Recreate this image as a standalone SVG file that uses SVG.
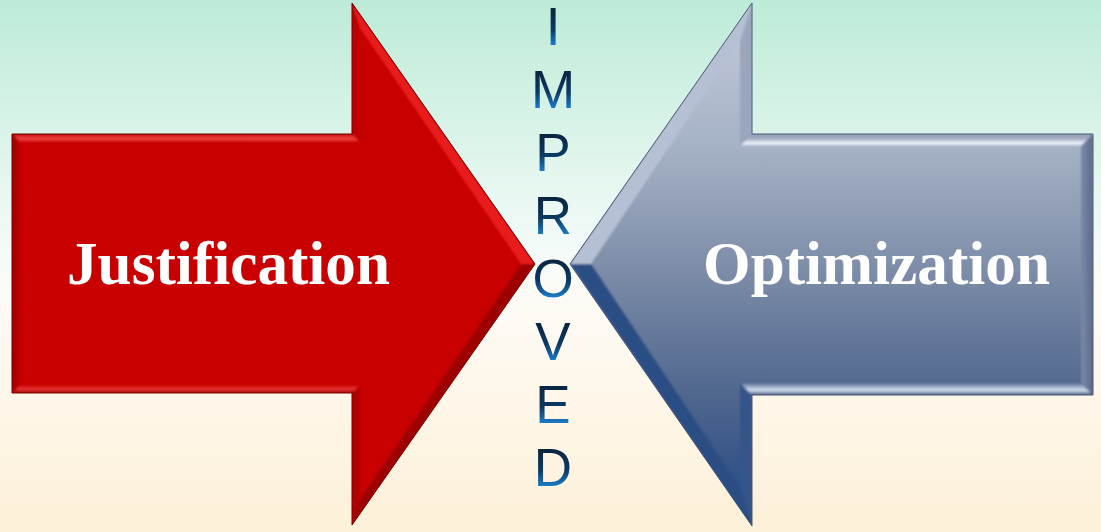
<svg xmlns="http://www.w3.org/2000/svg" width="1101" height="532" viewBox="0 0 1101 532">
  <defs>
    <linearGradient id="bg" x1="0" y1="0" x2="0" y2="1">
      <stop offset="0" stop-color="#bdebd7"/>
      <stop offset="0.48" stop-color="#f5fbf9"/>
      <stop offset="0.56" stop-color="#fefbf6"/>
      <stop offset="1" stop-color="#fdf0d8"/>
    </linearGradient>

    <!-- red arrow -->
    <linearGradient id="redTop" x1="0" y1="0" x2="0" y2="1">
      <stop offset="0" stop-color="#b80606"/>
      <stop offset="0.55" stop-color="#f24444"/>
      <stop offset="1" stop-color="#d41212"/>
    </linearGradient>
    <linearGradient id="redBottom" x1="0" y1="1" x2="0" y2="0">
      <stop offset="0" stop-color="#8a0000"/>
      <stop offset="0.45" stop-color="#ee3434"/>
      <stop offset="1" stop-color="#cc0404"/>
    </linearGradient>
    <linearGradient id="redLeft" x1="0" y1="0" x2="1" y2="0">
      <stop offset="0" stop-color="#9a0000"/>
      <stop offset="1" stop-color="#c00000"/>
    </linearGradient>

    <!-- slate arrow -->
    <linearGradient id="slateFill" gradientUnits="userSpaceOnUse" x1="0" y1="3" x2="0" y2="526">
      <stop offset="0" stop-color="#c4ccdc"/>
      <stop offset="0.27" stop-color="#a6b2c6"/>
      <stop offset="0.5" stop-color="#7f8ea9"/>
      <stop offset="0.74" stop-color="#51688f"/>
      <stop offset="1" stop-color="#214683"/>
    </linearGradient>
    <linearGradient id="slateTop" x1="0" y1="0" x2="0" y2="1">
      <stop offset="0" stop-color="#8d96ae"/>
      <stop offset="0.45" stop-color="#a9b3c8"/>
      <stop offset="0.75" stop-color="#f2f7ff"/>
      <stop offset="1" stop-color="#b4bfd2"/>
    </linearGradient>
    <linearGradient id="slateBottom" x1="0" y1="1" x2="0" y2="0">
      <stop offset="0" stop-color="#46587c"/>
      <stop offset="0.4" stop-color="#d6e0f4"/>
      <stop offset="1" stop-color="#5a6f96"/>
    </linearGradient>
    <linearGradient id="slateRight" x1="1" y1="0" x2="0" y2="0">
      <stop offset="0" stop-color="#5c6a8a"/>
      <stop offset="1" stop-color="#7a8aa8"/>
    </linearGradient>

    <!-- vertical lettering -->
    <linearGradient id="ink" x1="0" y1="0" x2="0" y2="1">
      <stop offset="0.17" stop-color="#09233e"/>
      <stop offset="0.55" stop-color="#0c3a64"/>
      <stop offset="0.81" stop-color="#1b7ac6"/>
    </linearGradient>

    <clipPath id="redClip">
      <polygon points="12,134 352,134 352,3 535,264 352,525 352,393 12,393"/>
    </clipPath>
    <clipPath id="slateClip">
      <polygon points="1093,134 752,134 752,3 570,264 752,526 752,395 1093,395"/>
    </clipPath>
    <filter id="soft" x="-5%" y="-5%" width="110%" height="110%">
      <feGaussianBlur stdDeviation="1.2"/>
    </filter>

    <style>
      .label { font-family: "Liberation Serif", "Times New Roman", serif; font-weight: bold; font-size: 61px; fill: #ffffff; }
      .letter { font-family: "Liberation Sans", Arial, sans-serif; font-size: 53px; text-anchor: middle; fill: url(#ink); }
    </style>
  </defs>

  <rect id="background" x="0" y="0" width="1101" height="532" fill="url(#bg)"/>

  <!-- Right-pointing red arrow -->
  <g id="justification">
    <polygon points="12,134 352,134 352,3 535,264 352,525 352,393 12,393" fill="#c80000"/>
    <g clip-path="url(#redClip)">
      <g filter="url(#soft)">
        <polygon points="12,134 352,134 360,142 20,142" fill="url(#redTop)"/>
        <polygon points="352,134 352,3 360,28.3 360,142" fill="#bc0000"/>
        <polygon points="352,3 535,264 521,264 360,28.3" fill="#e81c1c"/>
        <polygon points="535,264 352,525 360,499.7 521,264" fill="#9e0000"/>
        <polygon points="352,525 352,393 360,385 360,499.7" fill="#b00000"/>
        <polygon points="352,393 12,393 20,385 360,385" fill="url(#redBottom)"/>
        <polygon points="12,393 12,134 20,142 20,385" fill="url(#redLeft)"/>
      </g>
    </g>
    <polygon points="12,134 352,134 352,3 535,264 352,525 352,393 12,393" fill="none" stroke="#6e0000" stroke-width="1"/>
    <text class="label" x="67" y="284" textLength="323" lengthAdjust="spacingAndGlyphs">Justification</text>
  </g>

  <!-- Left-pointing slate arrow -->
  <g id="optimization">
    <polygon points="1093,134 752,134 752,3 570,264 752,526 752,395 1093,395" fill="url(#slateFill)"/>
    <g clip-path="url(#slateClip)">
      <g filter="url(#soft)">
        <polygon points="1093,134 752,134 740,146 1081,146" fill="url(#slateTop)"/>
        <polygon points="752,134 752,3 740,41.1 740,146" fill="#9aa6be"/>
        <polygon points="752,3 570,264 591,264 740,41.1" fill="#b6c0d4"/>
        <polygon points="570,264 752,526 740,487.7 591,264" fill="#2c4d84"/>
        <polygon points="752,526 752,395 740,383 740,487.7" fill="#35548a"/>
        <polygon points="752,395 1093,395 1081,383 740,383" fill="url(#slateBottom)"/>
        <polygon points="1093,395 1093,134 1081,146 1081,383" fill="url(#slateRight)"/>
      </g>
    </g>
    <polygon points="1093,134 752,134 752,3 570,264 752,526 752,395 1093,395" fill="none" stroke="#4a5572" stroke-width="1"/>
    <text class="label" x="703" y="284" textLength="347" lengthAdjust="spacingAndGlyphs">Optimization</text>
  </g>

  <!-- Vertical lettering between the two arrow tips -->
  <g id="improved">
    <text class="letter" x="553" y="45">I</text>
    <text class="letter" x="553" y="108">M</text>
    <text class="letter" x="553" y="171">P</text>
    <text class="letter" x="553" y="234">R</text>
    <text class="letter" x="553" y="297">O</text>
    <text class="letter" x="553" y="360">V</text>
    <text class="letter" x="553" y="423">E</text>
    <text class="letter" x="553" y="486">D</text>
  </g>
</svg>
